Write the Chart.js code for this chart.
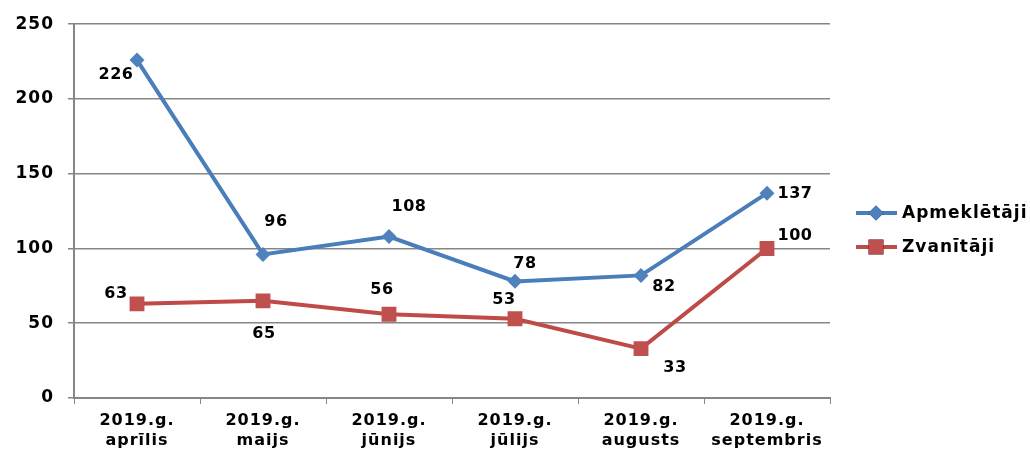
<!DOCTYPE html>
<html>
<head>
<meta charset="utf-8">
<script src="https://cdn.jsdelivr.net/npm/chart.js@4.4.0/dist/chart.umd.min.js"></script>
<style>
  body { margin: 0; background: #fff; }
  #wrap { width: 1030px; height: 456px; }
</style>
</head>
<body>
<div id="wrap"><canvas id="plot" width="1030" height="456"></canvas></div>
<script>
// months (two-line category labels)
const months = [
    ['2019.g.', 'aprīlis'],
    ['2019.g.', 'maijs'],
    ['2019.g.', 'jūnijs'],
    ['2019.g.', 'jūlijs'],
    ['2019.g.', 'augusts'],
    ['2019.g.', 'septembris']
];
const seriesNames = ['Apmeklētāji', 'Zvanītāji'];
const visitors = [226, 96, 108, 78, 82, 137];
const callers = [63, 65, 56, 53, 33, 100];

// where each value label sits relative to its point (px)
const visitorLabelOffsets = [[-21, 15], [13, -33], [20, -30], [10, -18], [23, 11], [28, 1]];
const callerLabelOffsets = [[-21, -10], [1, 33], [-7, -24], [-11, -19], [34, 19], [28, -13]];

const blue = '#4A7EBB';
const blueMark = '#4F81BD';
const red = '#BE4B48';
const redMark = '#C0504D';
const gridGrey = '#868686';
const fontFam = '"DejaVu Sans", Verdana, sans-serif';

const spacingPlugin = {
    id: 'spacing',
    beforeUpdate(chart) { chart.ctx.letterSpacing = '1px'; },
    beforeDraw(chart) { chart.ctx.letterSpacing = '1px'; }
};

const valueLabels = {
    id: 'valueLabels',
    afterDatasetsDraw(chart) {
        const ctx = chart.ctx;
        const offsets = [visitorLabelOffsets, callerLabelOffsets];
        ctx.save();
        ctx.letterSpacing = '0.5px';
        ctx.font = 'bold 16px ' + fontFam;
        ctx.fillStyle = '#000';
        ctx.textAlign = 'center';
        ctx.textBaseline = 'middle';
        chart.data.datasets.forEach((ds, di) => {
            chart.getDatasetMeta(di).data.forEach((pt, i) => {
                const off = offsets[di][i];
                ctx.fillText(String(ds.data[i]), pt.x + off[0], pt.y + off[1]);
            });
        });
        ctx.restore();
    }
};

const sideLegend = {
    id: 'sideLegend',
    afterDraw(chart) {
        const ctx = chart.ctx;
        const x0 = chart.chartArea.right + 26;
        const rows = [213, 247];
        ctx.save();
        chart.data.datasets.forEach((ds, di) => {
            const y = rows[di];
            ctx.strokeStyle = ds.borderColor;
            ctx.lineWidth = 4;
            ctx.beginPath();
            ctx.moveTo(x0, y);
            ctx.lineTo(x0 + 41, y);
            ctx.stroke();
            Chart.helpers.drawPoint(ctx, {
                pointStyle: ds.pointStyle,
                radius: ds.pointRadius,
                borderWidth: 0
            }, x0 + 20, y);
            ctx.fillStyle = ds.pointBackgroundColor;
            ctx.fill();
            ctx.letterSpacing = '1px';
            ctx.font = 'bold 17px ' + fontFam;
            ctx.fillStyle = '#000';
            ctx.textAlign = 'left';
            ctx.textBaseline = 'middle';
            ctx.fillText(ds.label, x0 + 46, y + 1);
        });
        ctx.restore();
    }
};

var ctx = document.getElementById('plot').getContext('2d');
var chart = new Chart(ctx, {
    type: 'line',
    data: {
        labels: months,
        datasets: [{
            label: seriesNames[0],
            data: visitors,
            borderColor: blue,
            borderWidth: 4,
            pointStyle: 'rectRot',
            pointRadius: 7.5,
            pointBackgroundColor: blueMark,
            pointBorderWidth: 0,
            tension: 0
        }, {
            label: seriesNames[1],
            data: callers,
            borderColor: red,
            borderWidth: 4,
            pointStyle: 'rect',
            pointRadius: 10.5,
            pointBackgroundColor: redMark,
            pointBorderWidth: 0,
            tension: 0
        }]
    },
    options: {
        responsive: false,
        animation: false,
        layout: { padding: { top: 22, right: 200, left: 0, bottom: 0 } },
        plugins: {
            legend: { display: false },
            tooltip: { enabled: false }
        },
        scales: {
            x: {
                offset: true,
                grid: {
                    offset: true,
                    drawOnChartArea: false,
                    drawTicks: true,
                    tickLength: 6,
                    color: gridGrey,
                    lineWidth: 1
                },
                border: { color: gridGrey, width: 2 },
                ticks: {
                    color: '#000',
                    padding: 6,
                    maxRotation: 0,
                    font: { family: fontFam, size: 16, weight: 'bold', lineHeight: 1.3 }
                },
                afterFit(scale) { scale.height = 58; }
            },
            y: {
                min: 0,
                max: 250,
                ticks: {
                    stepSize: 50,
                    color: '#000',
                    padding: 14,
                    font: { family: fontFam, size: 17, weight: 'bold' }
                },
                grid: {
                    color: gridGrey,
                    lineWidth: 1.5,
                    tickLength: 6
                },
                border: { color: gridGrey, width: 2 },
                afterFit(scale) { scale.width = 74; }
            }
        }
    },
    plugins: [spacingPlugin, valueLabels, sideLegend]
});
</script>
</body>
</html>
